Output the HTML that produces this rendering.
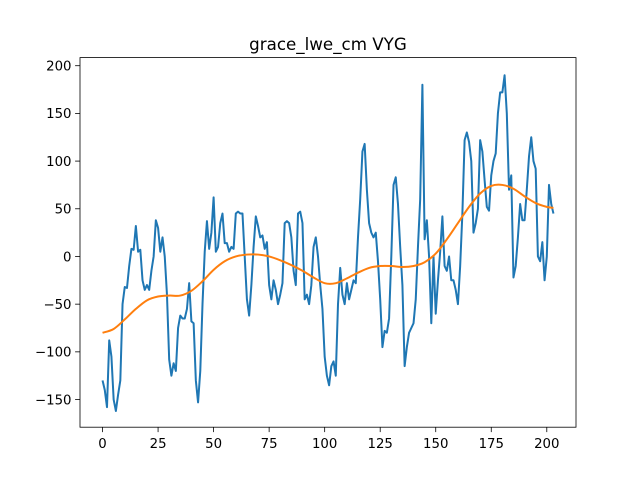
<!DOCTYPE html>
<html><head><meta charset="utf-8"><style>
body{margin:0;background:#fff}
svg{display:block;font-family:"DejaVu Sans","Liberation Sans",sans-serif}
</style></head><body>
<svg id="chart" width="640" height="480" xmlns="http://www.w3.org/2000/svg">
<rect width="640" height="480" fill="#fff"/>
<text x="328" y="50" text-anchor="middle" font-size="16.7">grace_lwe_cm VYG</text>
<g id="plot"></g>
<rect x="80" y="57.6" width="496" height="369.6" fill="none" stroke="#000" stroke-width="0.8"/>
<g id="axes"></g>
</svg>
<script>
const rawValues=[-130,-140,-158,-88,-105,-150,-162,-145,-130,-50,-32,-33,-10,8,7,32,5,7,-25,-35,-30,-35,-15,0,38,30,5,20,0,-40,-108,-125,-112,-120,-75,-62,-65,-65,-55,-28,-68,-70,-130,-153,-120,-50,5,37,8,25,62,5,10,35,45,14,14,5,10,8,45,47,45,45,0,-45,-62,-30,10,42,32,20,22,8,15,-30,-45,-25,-35,-50,-40,-28,35,37,35,20,-15,-30,45,47,35,-45,-40,-50,-30,10,20,0,-30,-55,-105,-125,-135,-115,-110,-125,-50,-12,-40,-50,-28,-45,-35,-25,-28,20,60,110,118,70,35,25,20,25,-5,-45,-95,-78,-80,-65,0,75,83,55,10,-30,-115,-95,-80,-75,-70,-45,10,60,180,18,38,0,-70,0,-60,-25,5,42,-10,-15,0,-25,-25,-35,-50,-10,45,122,130,120,100,25,35,50,122,110,80,52,48,85,100,108,150,172,172,190,150,70,85,-22,-10,20,55,38,38,70,105,125,100,92,0,-5,15,-25,0,75,55,45];
const trendX=[0,5,10,15,20,25,30,35,40,45,50,55,60,65,70,75,80,85,90,95,100,105,110,115,120,125,130,135,140,145,150,155,160,165,170,175,180,185,190,195,200,203];
const trendY=[-80,-76,-66,-55,-46,-42,-41,-41,-36,-26,-14,-5,0,2,2,0,-4,-9,-15,-22,-28,-28,-23,-17,-12,-10,-10,-11,-10,-6,3,18,35,52,66,74,75,71,63,56,52,51];
const xTicks=[0,25,50,75,100,125,150,175,200];
const yTicks=[-150,-100,-50,0,50,100,150,200];
const L=80,R=576,T=57.6,B=427.2;
const xmin=-10.15,xmax=213.15,ymin=-179,ymax=208.5;
const sx=v=>L+(v-xmin)/(xmax-xmin)*(R-L);
const sy=v=>B-(v-ymin)/(ymax-ymin)*(B-T);
const NS="http://www.w3.org/2000/svg";
const plot=document.getElementById('plot'),axes=document.getElementById('axes');
let d=rawValues.map((v,i)=>(i?'L':'M')+sx(i).toFixed(2)+' '+sy(v).toFixed(2)).join(' ');
const p1=document.createElementNS(NS,'path');
p1.setAttribute('d',d);p1.setAttribute('fill','none');p1.setAttribute('stroke','#1f77b4');p1.setAttribute('stroke-width','2');p1.setAttribute('stroke-linejoin','round');


plot.appendChild(p1);
const pts=trendX.map((x,i)=>[sx(x),sy(trendY[i])]);
let d2='M'+pts[0][0]+' '+pts[0][1];
for(let i=0;i<pts.length-1;i++){const p0=pts[Math.max(0,i-1)],a=pts[i],b=pts[i+1],p3=pts[Math.min(pts.length-1,i+2)];
d2+=` C${a[0]+(b[0]-p0[0])/6} ${a[1]+(b[1]-p0[1])/6} ${b[0]-(p3[0]-a[0])/6} ${b[1]-(p3[1]-a[1])/6} ${b[0]} ${b[1]}`;}
const p2=document.createElementNS(NS,'path');
p2.setAttribute('d',d2);p2.setAttribute('fill','none');p2.setAttribute('stroke','#ff7f0e');p2.setAttribute('stroke-width','2');


plot.appendChild(p2);
xTicks.forEach(t=>{const x=sx(t);
const l=document.createElementNS(NS,'line');l.setAttribute('x1',x);l.setAttribute('x2',x);l.setAttribute('y1',B);l.setAttribute('y2',B+4.9);l.setAttribute('stroke','#000');l.setAttribute('stroke-width','0.8');


axes.appendChild(l);
const tx=document.createElementNS(NS,'text');tx.setAttribute('x',x);tx.setAttribute('y',B+21);tx.setAttribute('text-anchor','middle');tx.setAttribute('font-size','13.3');tx.textContent=t;


axes.appendChild(tx);});
yTicks.forEach(t=>{const y=sy(t);
const l=document.createElementNS(NS,'line');l.setAttribute('x1',L-4.9);l.setAttribute('x2',L);l.setAttribute('y1',y);l.setAttribute('y2',y);l.setAttribute('stroke','#000');l.setAttribute('stroke-width','0.8');


axes.appendChild(l);
const tx=document.createElementNS(NS,'text');tx.setAttribute('x',L-8.5);tx.setAttribute('y',y+4.8);tx.setAttribute('text-anchor','end');tx.setAttribute('font-size','13.3');tx.textContent=t<0?'\u2212'+(-t):t;


axes.appendChild(tx);});
</script>
</body></html>
